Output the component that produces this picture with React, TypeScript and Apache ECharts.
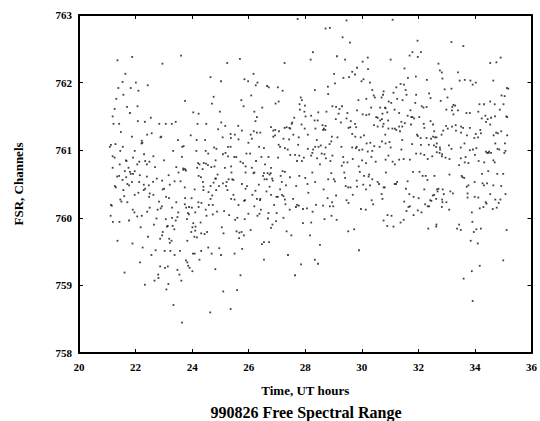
import React, { useEffect, useRef } from "react";
import * as echarts from "echarts";

const xMin = 20;
const xMax = 36;
const xStep = 2;
const yMin = 758;
const yMax = 763;
const yStep = 1;

const xTitle = "Time, UT hours";
const yTitle = "FSR, Channels";
const chartTitle = "990826 Free Spectral Range";

// [UT hours, FSR channels]
const early_upper: number[][] = [
[21.88,762.38],[21.36,762.33],[23.61,762.40],[22.95,762.28],[21.64,762.13],[21.54,762.01],[22.01,762.00],[22.43,761.96],[21.39,761.92],[21.83,761.92],[22.10,761.88],[21.57,761.82],[21.32,761.76],[23.75,761.73],[21.70,761.64],[22.07,761.65],[21.26,761.61],[21.80,761.55],[24.04,761.56],[24.23,761.54],[21.19,761.50],[22.54,761.48],[22.08,761.43],[22.33,761.42],[21.22,761.39],[21.42,761.39],[22.84,761.39],[23.07,761.39],[23.28,761.39],[23.42,761.42],[21.48,761.27],[22.41,761.23],[22.57,761.25],[21.87,761.20],[22.91,761.20],[23.95,761.22],[22.22,761.14],[23.50,761.15],[21.29,761.09],[21.13,761.08],[21.55,761.05],[22.21,761.10],[23.70,761.06],[23.33,760.99],[21.97,760.99],[21.46,760.99],[22.30,760.94],[21.19,760.91],[21.26,760.89],[22.63,760.91],[21.91,760.89],[23.64,760.90],[23.01,760.85],[21.68,760.84],[22.13,760.83],[22.34,760.84],[22.49,760.83],[22.40,760.79],[21.44,760.79],[22.06,760.79],[21.19,760.74],[21.75,760.74],[22.69,760.75],[23.44,760.75],[23.69,760.73],[24.21,760.81],[24.41,760.81],[24.56,760.78],[24.79,760.76],[24.18,760.74],[24.65,762.08],[25.02,762.02],[25.24,762.29],[24.76,761.79],[24.70,761.69],[24.98,761.57],[24.19,761.39],[24.50,761.39],[25.03,761.41],[25.17,761.36],[24.92,761.31],[25.08,761.19],[24.16,761.15],[24.46,761.15],[25.27,761.05],[24.78,761.04],[24.86,761.02],[24.48,760.99],[24.57,760.95],[24.15,760.99],[25.09,760.94],[25.18,760.96],[25.27,760.91],[24.83,760.85],[25.16,760.74],[23.65,761.05],[22.88,761.19],[22.24,761.11],[21.09,761.05],[21.66,760.85],[23.75,760.72],[24.26,760.79],[24.49,760.80],[24.68,760.75],[24.37,760.72]
];

const early_lower: number[][] = [
[21.62,760.69],[21.80,760.68],[21.97,760.69],[21.35,760.61],[21.42,760.62],[21.67,760.60],[21.83,760.65],[21.91,760.65],[22.15,760.63],[22.40,760.61],[22.75,760.58],[23.17,760.63],[23.52,760.67],[23.69,760.71],[23.78,760.70],[24.23,760.62],[24.31,760.60],[24.90,760.64],[25.29,760.57],[21.54,760.56],[21.87,760.53],[21.77,760.48],[21.71,760.50],[21.27,760.47],[21.30,760.45],[21.57,760.41],[22.13,760.53],[22.29,760.49],[22.34,760.43],[22.47,760.48],[22.62,760.53],[22.94,760.55],[23.21,760.49],[23.38,760.54],[23.59,760.54],[23.74,760.45],[24.09,760.42],[24.38,760.53],[24.40,760.46],[24.65,760.47],[24.76,760.52],[24.82,760.58],[24.95,760.47],[25.20,760.47],[25.22,760.53],[23.01,760.43],[22.96,760.42],[22.10,760.37],[21.97,760.34],[21.60,760.32],[22.29,760.41],[22.50,760.36],[22.48,760.31],[22.63,760.34],[23.08,760.31],[22.83,760.24],[23.18,760.29],[23.44,760.23],[23.75,760.29],[23.98,760.29],[24.22,760.23],[24.33,760.22],[24.40,760.41],[24.58,760.38],[24.71,760.33],[24.65,760.28],[24.73,760.19],[24.85,760.41],[24.84,760.58],[25.09,760.51],[25.25,760.41],[21.46,760.27],[21.50,760.24],[21.71,760.23],[21.13,760.19],[21.16,760.18],[21.90,760.12],[21.96,760.08],[22.22,760.03],[22.06,760.02],[22.41,760.09],[22.50,760.15],[22.78,760.12],[22.93,760.17],[22.89,760.14],[23.29,760.15],[23.74,760.20],[23.79,760.15],[23.89,760.16],[23.99,760.15],[23.85,760.07],[23.82,759.98],[23.89,760.05],[24.11,760.08],[24.23,760.16],[24.48,760.12],[24.51,760.03],[24.59,760.19],[24.30,759.93],[24.73,760.05],[24.88,760.09],[25.13,760.10],[25.31,760.04],[21.12,760.03],[21.20,759.94],[21.43,759.94],[21.77,759.96],[22.74,759.99],[23.07,759.98],[23.29,760.00],[23.48,760.01],[23.42,759.96],[23.14,759.88],[23.11,759.87],[23.31,759.88],[23.37,759.83],[23.51,760.08],[22.18,759.86],[22.65,759.90],[22.96,759.79],[22.94,759.74],[22.87,759.69],[22.44,759.72],[24.04,759.92],[24.01,759.86],[24.12,759.87],[24.11,759.81],[23.97,759.79],[24.08,759.72],[24.17,759.71],[24.32,759.77],[24.44,759.76],[24.53,759.79],[25.05,759.86],[25.11,759.77],[21.36,759.66],[21.89,759.62],[22.25,759.56],[22.71,759.52],[23.03,759.51],[23.19,759.69],[23.27,759.66],[23.21,759.63],[23.23,759.51],[23.38,759.45],[23.57,759.51],[23.83,759.66],[24.03,759.47],[24.09,759.47],[24.32,759.51],[24.57,759.56],[24.69,759.47],[24.96,759.55],[25.02,759.45],[22.56,759.45],[22.16,759.34],[23.78,759.37],[23.83,759.34],[23.86,759.29],[23.91,759.26],[24.01,759.21],[24.26,759.38],[24.82,759.24],[22.87,759.28],[23.04,759.26],[23.14,759.28],[23.48,759.23],[23.55,759.16],[23.62,759.07],[22.80,759.16],[22.81,759.11],[22.67,759.07],[21.61,759.19],[22.33,759.01],[23.16,759.02],[23.09,758.94],[25.10,758.91],[23.34,758.71],[23.64,758.45],[24.64,758.60]
];

const mid_upper: number[][] = [
[27.73,762.94],[28.72,762.80],[28.87,762.81],[29.46,762.92],[29.32,762.67],[29.58,762.59],[28.27,762.45],[28.19,762.34],[25.69,762.35],[27.27,762.29],[29.12,762.39],[29.41,762.34],[30.21,762.37],[30.03,762.31],[29.83,762.22],[30.22,762.20],[29.66,762.16],[29.76,762.12],[29.55,762.08],[29.35,762.07],[29.02,762.13],[29.05,761.99],[30.06,762.05],[29.99,762.02],[30.29,762.00],[26.17,762.13],[25.85,762.05],[25.98,762.02],[26.31,762.00],[26.25,761.96],[26.65,761.95],[26.71,761.93],[27.03,761.93],[27.20,761.88],[28.34,761.89],[28.80,761.94],[28.81,761.83],[30.37,761.89],[30.42,761.81],[30.46,761.78],[26.09,761.81],[25.74,761.74],[25.82,761.65],[27.06,761.72],[26.95,761.69],[27.84,761.78],[27.88,761.74],[27.80,761.68],[27.99,761.66],[27.81,761.60],[27.97,761.57],[27.61,761.48],[27.54,761.41],[26.48,761.63],[26.29,761.49],[26.24,761.43],[26.20,761.57],[28.96,761.65],[29.09,761.64],[29.21,761.61],[29.30,761.65],[29.18,761.54],[28.46,761.56],[28.33,761.44],[28.75,761.57],[29.46,761.47],[29.49,761.55],[29.61,761.43],[29.83,761.59],[29.88,761.74],[30.16,761.76],[30.03,761.53],[30.16,761.52],[30.26,761.53],[30.33,761.63],[30.51,761.49],[30.56,761.48],[25.63,761.36],[25.76,761.29],[26.18,761.28],[26.07,761.23],[26.29,761.26],[25.99,761.11],[26.11,761.17],[26.41,761.26],[26.79,761.34],[26.87,761.29],[26.94,761.30],[27.07,761.28],[27.27,761.33],[27.34,761.34],[27.44,761.33],[27.47,761.32],[27.52,761.39],[27.87,761.38],[27.98,761.32],[28.01,761.50],[28.21,761.51],[28.44,761.44],[28.61,761.37],[28.66,761.32],[28.72,761.36],[28.71,761.30],[28.09,761.23],[28.36,761.32],[28.63,761.30],[29.08,761.46],[29.26,761.41],[29.59,761.34],[29.53,761.33],[29.76,761.39],[29.80,761.34],[30.43,761.37],[30.56,761.35],[30.08,761.22],[25.36,761.24],[25.51,761.23],[25.37,761.18],[25.36,761.05],[25.64,761.16],[26.87,761.20],[26.93,761.22],[27.23,761.17],[27.43,761.16],[27.58,761.23],[27.77,761.19],[28.41,761.15],[28.55,761.07],[28.47,761.05],[28.72,761.04],[28.92,761.13],[28.86,761.09],[28.94,761.20],[29.14,761.19],[29.66,761.24],[29.77,761.20],[29.96,761.19],[30.17,761.10],[30.30,761.11],[30.44,761.06],[25.49,760.90],[25.56,760.90],[25.71,760.83],[25.80,760.81],[25.89,760.76],[26.05,760.95],[25.92,760.95],[26.37,761.05],[26.54,761.03],[26.70,760.90],[27.06,761.08],[27.11,761.05],[27.04,760.89],[27.28,761.03],[27.38,761.01],[27.47,760.93],[27.64,760.93],[27.75,761.08],[27.71,760.84],[27.88,760.84],[27.79,760.92],[27.95,760.89],[28.09,761.02],[28.21,760.92],[28.25,760.96],[28.28,761.01],[28.35,761.05],[28.42,760.88],[28.58,760.95],[28.68,760.94],[28.89,760.84],[28.52,760.79],[28.73,760.88],[28.96,760.92],[29.28,761.05],[29.34,760.90],[29.36,760.82],[29.66,761.04],[29.79,761.03],[29.82,761.05],[29.91,761.00],[30.02,761.01],[30.21,760.98],[30.37,760.99],[29.68,760.87],[30.01,760.85],[30.15,760.81],[30.34,760.90],[30.49,760.83],[26.45,760.90],[26.58,760.79],[26.79,760.74],[25.38,760.76],[26.11,760.74],[26.26,760.84],[29.29,760.77],[29.89,760.76],[29.49,760.82]
];

const mid_lower: number[][] = [
[25.39,760.67],[25.89,760.67],[26.17,760.66],[26.20,760.67],[26.54,760.66],[26.67,760.66],[26.78,760.66],[26.74,760.64],[27.20,760.69],[27.28,760.68],[28.25,760.67],[28.92,760.66],[29.38,760.67],[29.93,760.68],[30.26,760.64],[25.42,760.57],[25.46,760.56],[26.51,760.62],[26.56,760.57],[26.64,760.57],[26.83,760.58],[26.85,760.55],[27.13,760.62],[27.17,760.53],[27.46,760.60],[27.79,760.62],[28.00,760.59],[28.35,760.53],[28.81,760.57],[29.01,760.57],[29.05,760.54],[29.41,760.59],[29.82,760.55],[30.08,760.62],[30.24,760.61],[30.37,760.57],[30.56,760.53],[25.76,760.50],[25.94,760.47],[25.89,760.43],[26.36,760.49],[26.74,760.46],[27.32,760.48],[27.68,760.47],[28.08,760.50],[29.43,760.47],[29.52,760.45],[29.60,760.45],[29.83,760.46],[30.05,760.49],[30.29,760.48],[30.15,760.42],[26.24,760.40],[26.63,760.39],[27.11,760.42],[25.46,760.34],[26.13,760.34],[26.79,760.34],[26.98,760.31],[27.03,760.31],[27.18,760.34],[27.23,760.32],[28.11,760.37],[28.65,760.42],[29.09,760.33],[29.68,760.34],[25.38,760.28],[25.50,760.27],[25.84,760.25],[25.87,760.26],[26.29,760.28],[26.41,760.28],[26.40,760.26],[27.28,760.27],[27.57,760.28],[28.79,760.29],[29.46,760.26],[29.53,760.22],[30.35,760.26],[30.40,760.20],[25.64,760.19],[26.20,760.17],[26.90,760.19],[27.30,760.20],[27.77,760.18],[27.71,760.19],[27.67,760.16],[27.92,760.13],[28.06,760.14],[28.38,760.19],[28.63,760.18],[28.87,760.17],[28.99,760.17],[28.95,760.23],[26.43,760.12],[25.99,760.06],[26.38,760.06],[26.31,760.03],[26.70,760.07],[26.99,760.07],[27.45,760.12],[28.26,760.09],[29.97,760.13],[30.14,760.12],[25.52,759.97],[25.60,760.00],[25.86,759.98],[26.68,759.99],[27.23,760.00],[26.97,759.95],[27.92,759.92],[28.21,759.93],[28.68,759.98],[28.93,760.03],[29.11,759.97],[26.84,759.90],[26.79,759.85],[25.57,759.80],[25.67,759.78],[25.75,759.79],[25.83,759.74],[26.07,759.82],[25.66,759.70],[27.34,759.80],[27.51,759.74],[28.17,759.74],[29.52,759.80],[29.73,759.83],[26.54,759.64],[26.72,759.64],[26.47,759.61],[25.77,759.54],[25.50,759.47],[27.39,759.45],[28.52,759.60],[29.90,759.52],[26.54,759.38],[28.34,759.38],[28.45,759.32],[27.85,759.31],[25.71,759.15],[27.64,759.15],[25.59,758.93],[25.36,758.65]
];

const late_upper: number[][] = [
[31.09,762.93],[31.97,762.62],[33.17,762.60],[33.59,762.54],[31.79,762.45],[32.09,762.45],[31.69,762.40],[31.98,762.38],[31.02,762.34],[34.54,762.29],[34.76,762.30],[34.91,762.37],[32.71,762.28],[32.76,762.18],[32.83,762.15],[31.51,762.21],[33.40,762.15],[32.85,762.06],[31.91,762.09],[31.63,762.07],[32.30,762.04],[33.46,762.03],[33.64,762.04],[33.84,762.03],[33.92,761.97],[34.03,762.00],[34.65,762.03],[31.37,761.98],[31.49,761.97],[31.22,761.93],[31.55,761.89],[31.12,761.85],[30.77,761.87],[30.75,761.82],[30.70,761.78],[32.93,761.90],[33.17,761.91],[32.38,761.84],[32.43,761.77],[31.92,761.82],[31.58,761.82],[30.95,761.72],[31.25,761.76],[31.44,761.74],[31.04,761.70],[30.82,761.63],[30.84,761.62],[31.89,761.70],[32.12,761.65],[32.18,761.63],[32.29,761.64],[32.79,761.73],[33.03,761.78],[33.24,761.67],[33.30,761.66],[33.40,761.59],[32.99,761.60],[33.20,761.64],[33.19,761.59],[33.24,761.53],[33.70,761.55],[33.82,761.55],[34.12,761.57],[34.16,761.68],[34.32,761.68],[34.54,761.72],[34.70,761.68],[34.94,761.81],[35.05,761.80],[35.13,761.92],[35.18,761.91],[35.01,761.68],[34.88,761.60],[35.11,761.50],[35.14,761.49],[31.32,761.55],[31.16,761.60],[30.90,761.56],[30.65,761.63],[30.73,761.54],[30.71,761.46],[31.62,761.51],[31.75,761.49],[31.79,761.49],[31.85,761.47],[31.72,761.59],[32.03,761.49],[31.40,761.42],[31.52,761.40],[31.32,761.35],[30.65,761.44],[30.93,761.44],[31.08,761.32],[31.17,761.32],[30.94,761.32],[30.74,761.35],[30.77,761.39],[31.43,761.35],[31.22,761.30],[31.35,761.28],[30.83,761.23],[30.71,761.13],[30.98,761.12],[30.84,761.10],[32.43,761.43],[32.52,761.38],[32.19,761.39],[32.21,761.33],[31.74,761.38],[32.56,761.28],[32.64,761.19],[32.82,761.23],[32.88,761.29],[32.98,761.36],[33.04,761.32],[33.19,761.35],[33.32,761.37],[33.51,761.35],[33.58,761.33],[33.82,761.33],[33.33,761.29],[33.51,761.26],[33.98,761.18],[34.03,761.24],[34.11,761.19],[34.21,761.25],[34.19,761.30],[34.45,761.46],[34.24,761.47],[34.37,761.51],[34.57,761.48],[34.71,761.50],[34.39,761.42],[34.54,761.38],[34.66,761.22],[34.75,761.26],[34.81,761.25],[34.93,761.28],[35.14,761.22],[30.63,761.05],[31.02,761.04],[31.43,761.15],[31.40,761.01],[31.78,761.09],[32.09,761.08],[31.95,761.23],[31.98,761.21],[32.08,761.18],[32.29,761.18],[32.37,761.08],[32.45,761.17],[32.52,761.20],[32.59,761.19],[32.65,761.10],[32.55,761.07],[32.63,761.05],[32.76,761.04],[32.77,761.01],[32.84,760.94],[33.08,761.07],[33.17,761.02],[33.50,761.04],[33.72,761.22],[33.63,761.10],[33.82,761.00],[33.93,761.01],[34.05,761.03],[34.39,760.98],[34.43,760.96],[34.48,760.96],[34.57,760.96],[34.50,760.98],[34.72,761.10],[34.80,761.02],[34.86,761.01],[35.06,761.10],[35.08,760.99],[35.04,760.96],[30.94,760.92],[31.09,760.83],[31.17,760.79],[31.32,760.86],[30.84,760.86],[31.48,760.87],[31.70,760.86],[31.92,760.95],[32.08,760.95],[32.21,760.93],[32.33,760.87],[32.49,760.91],[32.65,760.97],[32.75,760.96],[32.83,760.91],[32.96,760.89],[33.10,760.87],[33.50,760.88],[33.67,760.90],[34.00,760.93],[34.13,760.84],[34.33,760.82],[34.65,760.85],[34.70,760.82],[33.64,760.82],[33.77,760.81],[33.44,760.78]
];

const late_lower: number[][] = [
[30.85,760.67],[31.81,760.68],[32.04,760.68],[32.15,760.62],[32.26,760.62],[32.57,760.62],[33.10,760.64],[33.53,760.62],[33.56,760.60],[33.62,760.59],[34.25,760.65],[34.47,760.69],[34.79,760.65],[35.00,760.65],[30.61,760.50],[30.77,760.45],[31.16,760.50],[31.21,760.50],[31.25,760.53],[31.62,760.54],[32.32,760.56],[31.56,760.43],[31.68,760.35],[31.83,760.31],[32.01,760.29],[32.21,760.42],[32.51,760.33],[32.66,760.42],[32.71,760.43],[32.68,760.39],[32.86,760.42],[32.90,760.35],[33.13,760.39],[33.22,760.36],[32.33,760.17],[32.38,760.17],[32.24,760.20],[32.42,760.26],[32.46,760.25],[32.63,760.28],[32.56,760.34],[32.84,760.27],[32.85,760.23],[32.99,760.23],[32.83,760.16],[33.09,760.12],[31.50,760.24],[31.65,760.16],[31.70,760.17],[31.58,760.10],[31.98,760.11],[31.83,760.04],[32.11,760.08],[30.70,760.35],[30.73,760.28],[30.81,760.45],[30.91,760.04],[31.05,760.03],[30.77,759.96],[30.90,759.88],[31.12,759.87],[31.37,759.93],[31.48,759.97],[33.77,760.48],[33.71,760.46],[33.99,760.53],[34.27,760.51],[34.32,760.48],[34.43,760.51],[34.65,760.48],[34.93,760.47],[33.74,760.36],[33.74,760.30],[33.99,760.31],[34.12,760.30],[34.54,760.35],[34.38,760.23],[34.41,760.21],[34.30,760.16],[34.17,760.14],[34.63,760.13],[34.77,760.15],[34.72,760.27],[34.84,760.22],[34.90,760.27],[35.08,760.35],[33.89,760.08],[32.35,759.84],[32.64,759.90],[32.63,759.87],[33.44,759.90],[33.37,759.84],[33.50,759.82],[33.91,759.94],[34.05,759.83],[33.96,759.79],[34.21,759.84],[35.12,759.82],[33.85,759.66],[34.10,759.62],[35.00,759.37],[34.17,759.29],[33.89,759.21],[33.60,759.10],[33.92,758.77]
];

export default function App() {
  const ref = useRef<HTMLDivElement>(null);
  useEffect(() => {
    if (!ref.current) return;
    const chart = echarts.init(ref.current, null, { renderer: "svg" });
    const font = "'Liberation Serif', 'DejaVu Serif', 'Times New Roman', serif";
    const lineStyle = { color: "#000", width: 2 };
    const data = [
      ...early_upper, ...early_lower, ...mid_upper, ...mid_lower, ...late_upper, ...late_lower,
    ];
    chart.setOption({
      animation: false,
      backgroundColor: "#fff",
      grid: { left: 79, right: 7, top: 15, bottom: 68, containLabel: false },
      xAxis: [
        {
          type: "value", min: xMin, max: xMax, interval: xStep, position: "bottom",
          name: xTitle, nameLocation: "middle", nameGap: 31,
          nameTextStyle: { fontFamily: font, fontWeight: "bold", fontSize: 13, color: "#000" },
          axisLine: { show: true, lineStyle },
          axisTick: { show: true, inside: true, length: 4, lineStyle: { color: "#000", width: 1 } },
          axisLabel: { fontFamily: font, fontWeight: "bold", fontSize: 11, color: "#000", margin: 8 },
          splitLine: { show: false },
        },
        {
          type: "value", min: xMin, max: xMax, interval: xStep, position: "top",
          axisLine: { show: true, lineStyle },
          axisTick: { show: true, inside: true, length: 4, lineStyle: { color: "#000", width: 1 } },
          axisLabel: { show: false },
          splitLine: { show: false },
        },
      ],
      yAxis: [
        {
          type: "value", min: yMin, max: yMax, interval: yStep, position: "left",
          name: yTitle, nameLocation: "middle", nameGap: 54, nameRotate: 90,
          nameTextStyle: { fontFamily: font, fontWeight: "bold", fontSize: 13, color: "#000" },
          axisLine: { show: true, lineStyle },
          axisTick: { show: true, inside: true, length: 4, lineStyle: { color: "#000", width: 1 } },
          axisLabel: { fontFamily: font, fontWeight: "bold", fontSize: 11, color: "#000", margin: 7 },
          splitLine: { show: false },
        },
        {
          type: "value", min: yMin, max: yMax, interval: yStep, position: "right",
          axisLine: { show: true, lineStyle },
          axisTick: { show: true, inside: true, length: 4, lineStyle: { color: "#000", width: 1 } },
          axisLabel: { show: false },
          splitLine: { show: false },
        },
      ],
      graphic: [
        {
          type: "text", x: 306, y: 412,
          style: {
            text: chartTitle, fontFamily: font, fontWeight: "bold", fontSize: 16,
            fill: "#000", textAlign: "center", textVerticalAlign: "middle",
          },
        },
      ],
      series: [
        {
          type: "scatter", xAxisIndex: 0, yAxisIndex: 0, data,
          symbol: "rect", symbolSize: 1.8,
          itemStyle: { color: "#111" },
          silent: true,
        },
      ],
    });
    return () => chart.dispose();
  }, []);
  return (
    <div
      ref={ref}
      style={{ position: "fixed", left: 0, top: 0, width: 540, height: 421, background: "#fff" }}
    />
  );
}
